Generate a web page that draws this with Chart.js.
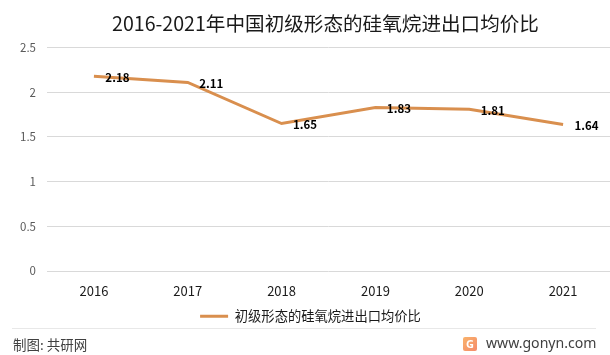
<!DOCTYPE html>
<html>
<head>
<meta charset="utf-8">
<script src="https://cdn.jsdelivr.net/npm/chart.js@4"></script>
<style>
  html, body { margin: 0; padding: 0; background: #fff; }
  #wrap { position: relative; width: 610px; height: 355px; overflow: hidden; font-family: "Noto Sans CJK SC", "Noto Sans", sans-serif; }
  #rule { position: absolute; left: 12px; top: 328px; width: 584px; height: 1px; background: #e8e8e8; }
  #credit { position: absolute; left: 13px; top: 334px; font-size: 13.5px; line-height: 20px; color: #404040; }
  #site { position: absolute; left: 486px; top: 333px; font-size: 14.1px; line-height: 20px; color: #404040; font-family: "Noto Sans", sans-serif; }
  #logo { position: absolute; left: 463px; top: 337px; width: 14px; height: 14px; border-radius: 2px; background: linear-gradient(135deg, #f9b36b, #f58a6a); color: #fff; font: bold 11px/14px "Noto Sans", sans-serif; text-align: center; }
</style>
</head>
<body>
<div id="wrap">
  <canvas id="chart" width="610" height="355"></canvas>
  <div id="rule"></div>
  <div id="credit">制图: 共研网</div>
  <div id="logo">G</div>
  <div id="site">www.gonyn.com</div>
</div>
<script>
const years = ['2016', '2017', '2018', '2019', '2020', '2021'];
const ratios = [2.18, 2.11, 1.65, 1.83, 1.81, 1.64];
const yTicks = [0, 0.5, 1, 1.5, 2, 2.5];
const seriesName = '初级形态的硅氧烷进出口均价比';
const chartTitle = '2016-2021年中国初级形态的硅氧烷进出口均价比';

const cjkFont = '"Noto Sans CJK SC", "Noto Sans", sans-serif';

// Values sit to the right of each point, as in the source chart
const pointValuePlugin = {
  id: 'pointValues',
  afterLayout(chart) {
    // title is centred a little left of the plot area
    chart.titleBlock.left -= 3;
    chart.titleBlock.right -= 3;
  },
  afterDatasetsDraw(chart) {
    const { ctx } = chart;
    const meta = chart.getDatasetMeta(0);
    ctx.save();
    ctx.font = 'bold 11.5px ' + cjkFont;
    ctx.fillStyle = '#000';
    ctx.textAlign = 'center';
    ctx.textBaseline = 'middle';
    meta.data.forEach((pt, i) => {
      ctx.fillText(ratios[i].toFixed(2), pt.x + 23.5, pt.y + 1);
    });
    ctx.restore();
  }
};

new Chart(document.getElementById('chart'), {
  type: 'line',
  data: {
    labels: years,
    datasets: [
      {
        label: seriesName,
        data: ratios,
        borderColor: '#d98f4e',
        backgroundColor: '#d98f4e',
        borderWidth: 3,
        pointRadius: 0,
        tension: 0
      }
    ]
  },
  options: {
    responsive: false,
    animation: false,
    layout: {
      padding: { top: 12, bottom: 22, left: 11, right: 0 }
    },
    scales: {
      x: {
        offset: true,
        grid: { display: false },
        border: { display: false },
        ticks: { color: '#1a1a1a', padding: 4, font: { size: 13, family: cjkFont } }
      },
      y: {
        min: 0,
        max: 2.5,
        afterFit(scale) { scale.width = 36; },
        afterBuildTicks(scale) { scale.ticks = yTicks.map(v => ({ value: v })); },
        grid: { color: '#d9d9d9', drawTicks: false },
        border: { display: false },
        ticks: {
          color: '#595959',
          padding: 11,
          font: { size: 11.5, family: cjkFont },
          callback: v => String(v)
        }
      }
    },
    plugins: {
      title: {
        display: true,
        fullSize: false,
        text: chartTitle,
        color: '#1a1a1a',
        font: { size: 19.6, weight: 'normal', family: cjkFont },
        padding: { top: 0, bottom: 12 }
      },
      legend: {
        position: 'bottom',
        labels: {
          boxWidth: 28,
          boxHeight: 3,
          padding: 7,
          color: '#1a1a1a',
          font: { size: 13.3, family: cjkFont },
          generateLabels: chart => Chart.defaults.plugins.legend.labels.generateLabels(chart).map(l => ({ ...l, lineWidth: 0 }))
        }
      },
      tooltip: { enabled: false }
    }
  },
  plugins: [pointValuePlugin]
});
</script>
</body>
</html>
